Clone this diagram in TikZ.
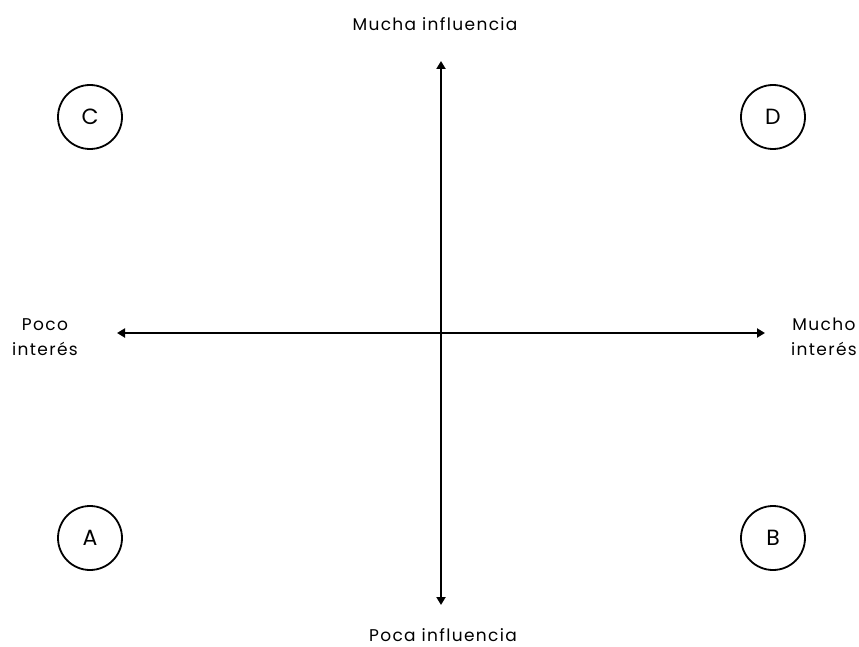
\documentclass[tikz,border=0pt]{standalone}
\usepackage{fontspec}
\setmainfont{Poppins}
\newfontfamily\labelfont[LetterSpace=8]{Poppins}
\usetikzlibrary{arrows.meta}
\begin{document}
\begin{tikzpicture}[x=1pt,y=-1pt,
  axis/.style={line width=2.3pt,-{Triangle[length=8pt,width=9pt]}},
  quad/.style={circle,draw,line width=1.8pt,minimum size=64pt,inner sep=0pt,font=\labelfont\fontsize{22}{24}\selectfont},
  lbl/.style={font=\labelfont\fontsize{17}{25}\selectfont,align=center,inner sep=1pt}]
\useasboundingbox (0,0) rectangle (859,647);
\coordinate (o) at (441,333);
\coordinate (top) at (441,61);
\coordinate (bot) at (441,605);
\coordinate (lft) at (117,333);
\coordinate (rgt) at (765,333);
\draw[axis] (o) -- (top);
\draw[axis] (o) -- (bot);
\draw[axis] (o) -- (lft);
\draw[axis] (o) -- (rgt);
\node[quad] (C) at (90,117) {C};
\node[quad] (D) at (773,117) {D};
\node[quad] (A) at (90,538) {A};
\node[quad] (B) at (773,538) {B};
\node[lbl] (hi) at (435,24) {Mucha influencia};
\node[lbl] (lo) at (443,635) {Poca influencia};
\node[lbl] (li) at (45,337) {Poco\\interés};
\node[lbl] (mi) at (824,337) {Mucho\\interés};
\end{tikzpicture}
\end{document}
